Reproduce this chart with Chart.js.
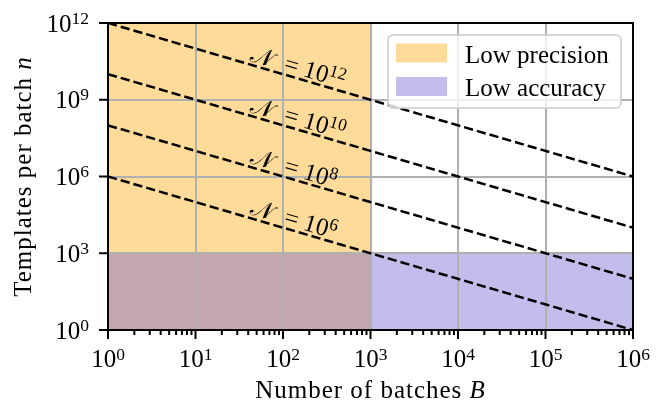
<!DOCTYPE html>
<html>
<head>
<meta charset="utf-8">
<script src="https://cdn.jsdelivr.net/npm/chart.js@4"></script>
<style>
  html, body { margin: 0; padding: 0; background: #ffffff; }
  #wrap { width: 665px; height: 403px; position: relative; }
</style>
</head>
<body>
<div id="wrap"><canvas id="c" width="665" height="403"></canvas></div>
<script>
// ---------- data ----------
const xTickValues = [1, 10, 100, 1e3, 1e4, 1e5, 1e6];
const xTickExps   = ['0', '1', '2', '3', '4', '5', '6'];
const yTickValues = [1, 1e3, 1e6, 1e9, 1e12];
const yTickExps   = ['0', '3', '6', '9', '12'];

const lineB        = [1, 1e6];                  // batches B at the two ends of each dashed line
const lineExps     = ['12', '10', '8', '6'];    // N = 10^exp
const lineStartN   = [1e12, 1e10, 1e8, 1e6];    // n at B = 1
const lineEndN     = [1e6, 1e4, 1e2, 1];        // n at B = 1e6
const labelB       = 40;                        // B where the N labels start

const precisionB   = [1, 1e3];                  // "Low precision" band in B
const precisionTop = 1e12;
const accuracyB    = [1, 1e6];                  // "Low accuracy" band in B
const accuracyTop  = 1e3;

const legendLabels = ['Low precision', 'Low accuracy'];
const orangeFill = 'rgba(255,165,0,0.4)';
const purpleFill = 'rgba(106,90,205,0.4)';

// ---------- datasets ----------
const datasets = [];
datasets.push({
  label: legendLabels[1],
  data: accuracyB.map(b => ({x: b, y: accuracyTop})),
  borderWidth: 0, pointRadius: 0, backgroundColor: purpleFill, fill: 'start'
});
datasets.push({
  label: legendLabels[0],
  data: precisionB.map(b => ({x: b, y: precisionTop})),
  borderWidth: 0, pointRadius: 0, backgroundColor: orangeFill, fill: 'start'
});
lineStartN.forEach((n0, i) => {
  datasets.push({
    label: 'N' + lineExps[i],
    data: [{x: lineB[0], y: n0}, {x: lineB[1], y: lineEndN[i]}],
    borderColor: '#000', borderWidth: 2.5, borderDash: [9.25, 4],
    pointRadius: 0, fill: false, tension: 0
  });
});

const SERIF = '"Liberation Serif", "Times New Roman", serif';
const FS = 25, SFS = 17.5;

function drawPow(ctx, base, exp, x, y, align, supRise) {
  ctx.font = FS + 'px ' + SERIF;
  const wb = ctx.measureText(base).width;
  ctx.font = SFS + 'px ' + SERIF;
  const we = ctx.measureText(exp).width;
  const total = wb + we;
  let x0 = x;
  if (align === 'center') x0 = x - total / 2;
  else if (align === 'right') x0 = x - total;
  ctx.textAlign = 'left';
  ctx.textBaseline = 'alphabetic';
  ctx.font = FS + 'px ' + SERIF;
  ctx.fillText(base, x0, y);
  ctx.font = SFS + 'px ' + SERIF;
  ctx.fillText(exp, x0 + wb, y - supRise);
}

const decor = {
  id: 'decor',
  afterDatasetsDraw(chart) {
    const ctx = chart.ctx;
    const a = chart.chartArea;
    const xs = chart.scales.x, ys = chart.scales.y;
    ctx.save();
    ctx.fillStyle = '#000';
    ctx.strokeStyle = '#000';

    // N labels along the dashed lines
    lineStartN.forEach((n0, i) => {
      const x1 = xs.getPixelForValue(lineB[0]), y1 = ys.getPixelForValue(n0);
      const x2 = xs.getPixelForValue(lineB[1]), y2 = ys.getPixelForValue(lineEndN[i]);
      const ang = Math.atan2(y2 - y1, x2 - x1);
      const lx = xs.getPixelForValue(labelB);
      const t = (lx - x1) / (x2 - x1);
      const ly = y1 + t * (y2 - y1);
      ctx.save();
      ctx.translate(lx, ly);
      ctx.rotate(ang);
      ctx.textAlign = 'left';
      ctx.textBaseline = 'alphabetic';
      ctx.font = '24px ' + SERIF;
      const nSym = '\u{1D4A9}';
      ctx.fillText(nSym, 0, -3.5);
      let w = 35;
      ctx.font = FS + 'px ' + SERIF;
      ctx.fillText('=', w, -3.5);
      w += ctx.measureText('=').width + 6;
      drawPow(ctx, '10', lineExps[i], w, -3.5, 'left', 8);
      ctx.restore();
    });

    // spines
    ctx.lineWidth = 2;
    ctx.strokeRect(a.left, a.top, a.right - a.left, a.bottom - a.top);

    // x ticks (major + minor)
    ctx.lineWidth = 2;
    for (let d = 0; d < xTickValues.length; d++) {
      const v = xTickValues[d];
      const px = xs.getPixelForValue(v);
      ctx.beginPath(); ctx.moveTo(px, a.bottom); ctx.lineTo(px, a.bottom + 9); ctx.stroke();
      drawPow(ctx, '10', xTickExps[d], px, 367, 'center', 7);
      if (d < xTickValues.length - 1) {
        for (let m = 2; m <= 9; m++) {
          const mx = xs.getPixelForValue(v * m);
          ctx.beginPath(); ctx.moveTo(mx, a.bottom); ctx.lineTo(mx, a.bottom + 5); ctx.stroke();
        }
      }
    }
    // y ticks
    for (let d = 0; d < yTickValues.length; d++) {
      const py = ys.getPixelForValue(yTickValues[d]);
      ctx.beginPath(); ctx.moveTo(a.left - 9, py); ctx.lineTo(a.left, py); ctx.stroke();
      drawPow(ctx, '10', yTickExps[d], 89, py + 8.5, 'right', 8);
    }

    // axis titles
    ctx.letterSpacing = '1px';
    ctx.textBaseline = 'alphabetic';
    ctx.font = FS + 'px ' + SERIF;
    const xt1 = 'Number of batches ';
    const w1 = ctx.measureText(xt1).width;
    ctx.font = 'italic ' + FS + 'px ' + SERIF;
    const w2 = ctx.measureText('B').width;
    const cx = (a.left + a.right) / 2;
    let sx = cx - (w1 + w2) / 2;
    ctx.textAlign = 'left';
    ctx.font = FS + 'px ' + SERIF;
    ctx.fillText(xt1, sx, 398);
    ctx.font = 'italic ' + FS + 'px ' + SERIF;
    ctx.fillText('B', sx + w1, 398);

    ctx.save();
    const cy = (a.top + a.bottom) / 2;
    ctx.translate(31, cy);
    ctx.rotate(-Math.PI / 2);
    ctx.font = FS + 'px ' + SERIF;
    const yt1 = 'Templates per batch ';
    const v1 = ctx.measureText(yt1).width;
    ctx.font = 'italic ' + FS + 'px ' + SERIF;
    const v2 = ctx.measureText('n').width;
    const sy = -(v1 + v2) / 2;
    ctx.font = FS + 'px ' + SERIF;
    ctx.fillText(yt1, sy, 0);
    ctx.font = 'italic ' + FS + 'px ' + SERIF;
    ctx.fillText('n', sy + v1, 0);
    ctx.restore();
    ctx.letterSpacing = '0px';

    // legend
    const lx = 388, ly = 35, lw = 233, lh = 73, r = 5;
    ctx.beginPath();
    ctx.moveTo(lx + r, ly);
    ctx.arcTo(lx + lw, ly, lx + lw, ly + lh, r);
    ctx.arcTo(lx + lw, ly + lh, lx, ly + lh, r);
    ctx.arcTo(lx, ly + lh, lx, ly, r);
    ctx.arcTo(lx, ly, lx + lw, ly, r);
    ctx.closePath();
    ctx.fillStyle = 'rgba(255,255,255,0.8)';
    ctx.fill();
    ctx.strokeStyle = 'rgba(204,204,204,0.8)';
    ctx.lineWidth = 2;
    ctx.stroke();
    const swatches = [orangeFill, purpleFill];
    const swY = [43.5, 77];
    const txY = [62.5, 95.5];
    for (let i = 0; i < 2; i++) {
      ctx.fillStyle = '#ffffff';
      ctx.fillRect(396, swY[i], 51, 19);
      ctx.fillStyle = swatches[i];
      ctx.fillRect(396, swY[i], 51, 19);
      ctx.fillStyle = '#000';
      ctx.font = FS + 'px ' + SERIF;
      ctx.textAlign = 'left';
      ctx.fillText(legendLabels[i], 465, txY[i]);
    }
    ctx.restore();
  }
};

new Chart(document.getElementById('c'), {
  type: 'line',
  data: { datasets },
  options: {
    responsive: false,
    animation: false,
    devicePixelRatio: 1,
    layout: { padding: { left: 0, top: 23, right: 32, bottom: 0 } },
    plugins: {
      legend: { display: false },
      tooltip: { enabled: false },
      filler: { drawTime: 'beforeDraw' }
    },
    scales: {
      x: {
        type: 'logarithmic', min: 1, max: 1e6,
        afterBuildTicks: s => { s.ticks = xTickValues.map(v => ({value: v, major: true})); },
        afterFit: s => { s.height = 73; },
        ticks: { display: false },
        grid: { color: '#b0b0b0', lineWidth: 2, drawTicks: false },
        border: { display: false }
      },
      y: {
        type: 'logarithmic', min: 1, max: 1e12,
        afterBuildTicks: s => { s.ticks = yTickValues.map(v => ({value: v, major: true})); },
        afterFit: s => { s.width = 108; },
        ticks: { display: false },
        grid: { color: '#b0b0b0', lineWidth: 2, drawTicks: false },
        border: { display: false }
      }
    }
  },
  plugins: [decor]
});
</script>
</body>
</html>
